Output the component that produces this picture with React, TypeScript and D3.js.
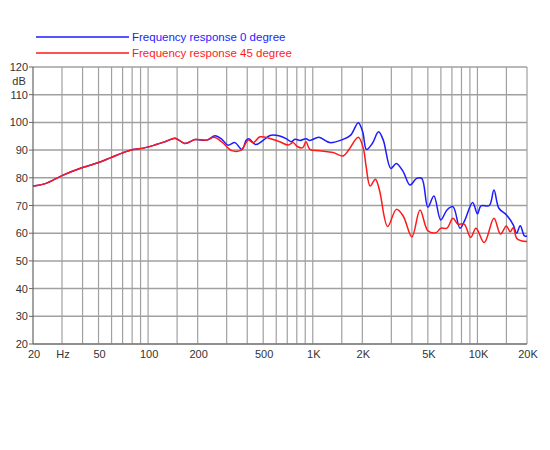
import React from "react";
import * as d3 from "d3";

const sharedFreq = [20, 24, 30, 40, 50, 59, 70, 81, 95, 112, 129, 146, 167, 193, 227];
const sharedDb = [77, 78, 80.8, 83.7, 85.5, 87.2, 89.0, 90.2, 90.8, 92.0, 93.2, 94.3, 92.4, 93.8, 93.6];

const freq0 = [255, 280, 305, 337, 371, 395, 409, 450, 500, 550, 630, 700, 740, 780, 840, 910, 960, 1090, 1270, 1530, 1700, 1890, 2010, 2120, 2300, 2510, 2680, 2980, 3220, 3540, 3900, 4270, 4590, 5000, 5440, 5990, 6530, 7100, 7840, 8400, 9350, 10000, 10500, 11800, 12600, 13500, 15000, 16500, 17300, 18200, 19300, 20000];
const db0 = [95.2, 94, 91.8, 92.7, 90.2, 93.6, 94.1, 92, 93.5, 95.3, 95.1, 93.9, 93.0, 93.9, 93.5, 94.1, 93.5, 94.6, 92.7, 93.9, 95.4, 99.9, 96.6, 90.2, 92.4, 96.6, 93.6, 83.4, 85.2, 82.2, 77.4, 79.8, 79.8, 69.4, 73.4, 64.8, 68.4, 69.6, 61.8, 64.8, 71.1, 67.0, 69.9, 70.0, 75.6, 69.0, 66.6, 63.0, 60.0, 62.7, 59.0, 59.0];

const freq45 = [252, 280, 322, 367, 406, 435, 478, 550, 630, 710, 760, 810, 870, 910, 960, 1100, 1330, 1530, 1650, 1890, 2030, 2110, 2230, 2400, 2540, 2850, 3220, 3540, 4000, 4480, 5000, 5600, 6000, 6530, 7100, 7600, 8300, 9100, 9800, 11000, 12600, 13800, 15000, 15800, 16500, 17300, 18400, 20000];
const db45 = [94.6, 93.0, 89.8, 90.0, 93.6, 92.7, 94.8, 94.2, 93.0, 91.8, 92.7, 91.2, 90.9, 93.0, 90.3, 89.8, 89.1, 87.9, 90.0, 94.6, 90.5, 84.0, 77.0, 79.5, 75.6, 62.4, 68.6, 66.2, 58.7, 68.4, 60.9, 60.2, 61.8, 61.8, 65.4, 63.3, 63.3, 58.5, 61.8, 56.6, 65.4, 59.7, 62.6, 60.5, 62, 58.2, 57.3, 57.0];

const gridFreqs = [30, 40, 50, 60, 70, 80, 90, 100, 150, 200, 300, 400, 500, 600, 700, 800, 900, 1000, 1500, 2000, 3000, 4000, 5000, 6000, 7000, 8000, 9000, 10000, 15000, 20000];
const xTickFreqs = [20, 30, 50, 100, 200, 500, 1000, 2000, 5000, 10000, 20000];
const xTickLabels = ["20", "Hz", "50", "100", "200", "500", "1K", "2K", "5K", "10K", "20K"];
const yTicks = [20, 30, 40, 50, 60, 70, 80, 90, 100, 110, 120];

const seriesNames = ["Frequency response 0 degree", "Frequency response 45 degree"];
const seriesColors = ["#1c1cff", "#ff1a1a"];

export default function App() {
  const left = 33, right = 527, top = 67, bottom = 344;
  const x = d3.scaleLog().domain([20, 20000]).range([left, right]);
  const y = d3.scaleLinear().domain([20, 120]).range([bottom, top]);

  const s0 = sharedFreq.map((f, i) => [f, sharedDb[i]]).concat(freq0.map((f, i) => [f, db0[i]]));
  const s45 = sharedFreq.map((f, i) => [f, sharedDb[i]]).concat(freq45.map((f, i) => [f, db45[i]]));

  const line = d3
    .line<number[]>()
    .x((d) => x(d[0]))
    .y((d) => y(d[1]))
    .curve(d3.curveCatmullRom.alpha(0.5));

  const font = "Liberation Sans, Arial, sans-serif";

  return (
    <svg width={550} height={450} style={{ position: "absolute", left: 0, top: 0, background: "#fff" }} fontFamily={font}>
      <rect x={0} y={0} width={550} height={450} fill="#fff" />
      {gridFreqs.map((f) => (
        <line key={"v" + f} x1={x(f)} x2={x(f)} y1={top} y2={bottom} stroke="#a0a0a0" strokeWidth={1.2} />
      ))}
      {yTicks.map((t) => (
        <line key={"h" + t} x1={left} x2={right} y1={y(t)} y2={y(t)} stroke="#a0a0a0" strokeWidth={1.5} />
      ))}
      <line x1={left} x2={left} y1={top} y2={bottom} stroke="#666" strokeWidth={1.2} />
      <line x1={left} x2={right} y1={bottom} y2={bottom} stroke="#666" strokeWidth={1.2} />
      {yTicks.map((t) => (
        <line key={"yt" + t} x1={left - 4} x2={left} y1={y(t)} y2={y(t)} stroke="#666" strokeWidth={1} />
      ))}
      {yTicks.map((t) => (
        <text key={"yl" + t} x={28} y={y(t) + 4} textAnchor="end" fontSize={11} fill="#333">
          {t}
        </text>
      ))}
      <text x={19} y={y(115) + 4} textAnchor="middle" fontSize={11} fill="#333">
        dB
      </text>
      {xTickFreqs.map((f, i) => (
        <text key={"xl" + f} x={x(f) + 1} y={358} textAnchor="middle" fontSize={11} fill="#333">
          {xTickLabels[i]}
        </text>
      ))}
      <path d={line(s0) || ""} fill="none" stroke={seriesColors[0]} strokeWidth={1.5} />
      <path d={line(s45) || ""} fill="none" stroke={seriesColors[1]} strokeWidth={1.5} />
      {seriesNames.map((n, i) => (
        <g key={n}>
          <line x1={36} x2={129} y1={37 + i * 16} y2={37 + i * 16} stroke={seriesColors[i]} strokeWidth={1.6} />
          <text x={132} y={41 + i * 16} fontSize={11.5} fill={seriesColors[i]}>
            {n}
          </text>
        </g>
      ))}
    </svg>
  );
}
